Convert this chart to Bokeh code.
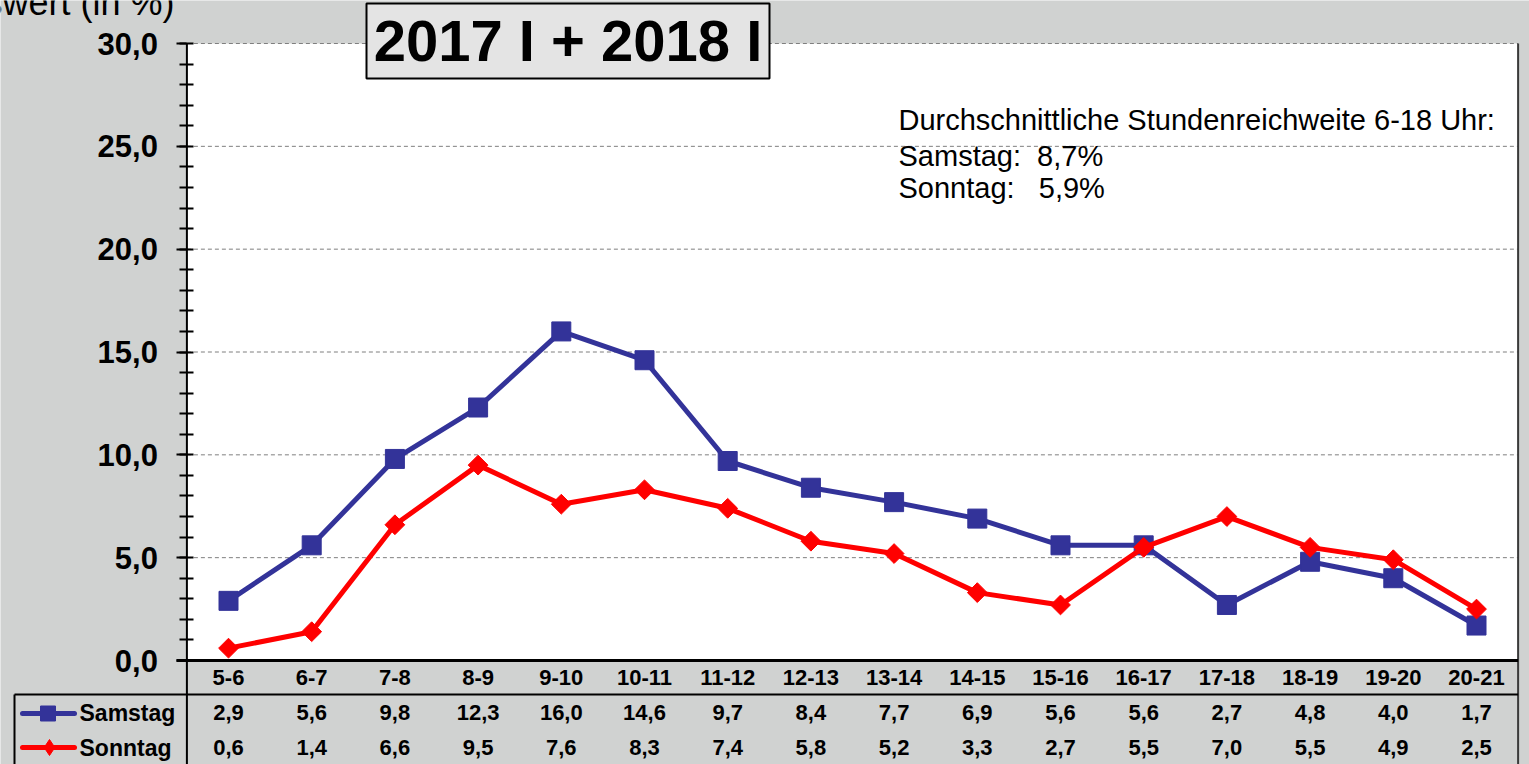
import math
from bokeh.plotting import figure
from bokeh.models import Range1d, LinearAxis, FixedTicker, Label, BoxAnnotation
from bokeh.embed import file_html
from bokeh.resources import INLINE
from bokeh.core.properties import value

# ---------------- data ----------------
categories = ["5-6", "6-7", "7-8", "8-9", "9-10", "10-11", "11-12", "12-13",
              "13-14", "14-15", "15-16", "16-17", "17-18", "18-19", "19-20", "20-21"]
samstag = [2.9, 5.6, 9.8, 12.3, 16.0, 14.6, 9.7, 8.4, 7.7, 6.9, 5.6, 5.6, 2.7, 4.8, 4.0, 1.7]
sonntag = [0.6, 1.4, 6.6, 9.5, 7.6, 8.3, 7.4, 5.8, 5.2, 3.3, 2.7, 5.5, 7.0, 5.5, 4.9, 2.5]
series_names = ["Samstag", "Sonntag"]
y_ticks = [0, 5, 10, 15, 20, 25, 30]
y_minor = list(range(0, 31))
title_text = "2017 I + 2018 I"
y_title = "Durchschnittswert (in %)"
avg_title = "Durchschnittliche Stundenreichweite 6-18 Uhr:"
avg_values = ["8,7%", "5,9%"]

# ---------------- layout ----------------
W, H = 1529, 764
X0_PX, DX = 228.0, 83.2       # page x of first category, category spacing
Y0_PX, DY = 660.0, 617.0 / 30.0

def xd(px):
    return (px - X0_PX) / DX

def yd(py):
    return (Y0_PX - py) / DY

BG = "#d0d2d1"
BLUE = "#333399"
RED = "#ff0000"
FONT = "Liberation Sans"
NB = "\u00a0"

def fmt(v):
    return f"{v:.1f}".replace(".", ",")

n = len(categories)
xs = list(range(n))
left_e, right_e = -0.5, n - 0.5
ytop = y_ticks[-1]
ybot = yd(H)

p = figure(width=W, height=H,
           x_range=Range1d(xd(0), xd(W)),
           y_range=Range1d(ybot, yd(0)),
           x_axis_type=None, y_axis_type=None,
           output_backend="svg", toolbar_location=None,
           min_border=0, background_fill_color=BG, border_fill_color=BG,
           outline_line_color=None)

# plot area
p.quad(left=left_e, right=right_e, bottom=0, top=ytop, fill_color="white", line_color=None)

# grid lines
p.segment(x0=[left_e] * (len(y_ticks) - 1), x1=[right_e] * (len(y_ticks) - 1),
          y0=y_ticks[1:], y1=y_ticks[1:], line_color="#7f7f7f", line_width=1,
          line_dash="4 3")

# frame / table lines
p.segment(x0=[left_e], y0=[ybot], x1=[left_e], y1=[ytop], line_color="black", line_width=2)
p.segment(x0=[right_e], y0=[ybot], x1=[right_e], y1=[ytop], line_color="#3a3a3a", line_width=2)
p.segment(x0=[xd(176)], y0=[0], x1=[right_e], y1=[0], line_color="black", line_width=3)
p.segment(x0=[xd(14)], y0=[yd(694)], x1=[right_e], y1=[yd(694)], line_color="black", line_width=2)
p.segment(x0=[xd(14)], y0=[ybot], x1=[xd(14)], y1=[yd(694)], line_color="black", line_width=2)

# y axis
yaxis = LinearAxis(fixed_location=left_e,
                   ticker=FixedTicker(ticks=y_ticks, minor_ticks=y_minor),
                   major_label_overrides={t: fmt(t) for t in y_ticks},
                   axis_line_color=None,
                   major_tick_in=0, major_tick_out=10,
                   minor_tick_in=7, minor_tick_out=7,
                   major_tick_line_width=2, minor_tick_line_width=2,
                   major_tick_line_color="black", minor_tick_line_color="black",
                   major_label_text_font=FONT, major_label_text_font_style="bold",
                   major_label_text_font_size="31px", major_label_text_color="black",
                   major_label_standoff=19)
p.add_layout(yaxis, "left")

# series
p.line(xs, samstag, line_color=BLUE, line_width=5)
p.scatter(xs, samstag, marker="square", size=19, fill_color=BLUE, line_color=BLUE)
p.line(xs, sonntag, line_color=RED, line_width=5)
p.scatter(xs, sonntag, marker="square", angle=math.pi / 4, size=14, fill_color=RED, line_color=RED)

# table: header + values
tkw = dict(text_font=value(FONT), text_font_style="bold", text_font_size="22px",
           text_color="black", text_baseline="middle")
p.text(xs, [yd(677)] * n, text=categories, text_align="center", **tkw)
p.text(xs, [yd(712)] * n, text=[fmt(v) for v in samstag], text_align="center", **tkw)
p.text(xs, [yd(747)] * n, text=[fmt(v) for v in sonntag], text_align="center", **tkw)
p.text([xd(79)] * 2, [yd(712), yd(747)], text=series_names, text_align="left",
       **{**tkw, "text_font_size": "23px"})

# legend keys in table
p.segment(x0=[xd(22)], y0=[yd(713)], x1=[xd(74)], y1=[yd(713)], line_color=BLUE,
          line_width=5, line_cap="round")
p.scatter([xd(47.5)], [yd(713)], marker="square", size=15, fill_color=BLUE, line_color=BLUE)
p.segment(x0=[xd(22)], y0=[yd(747)], x1=[xd(74)], y1=[yd(747)], line_color=RED,
          line_width=5, line_cap="round")
p.scatter([xd(49)], [yd(747)], marker="diamond", size=16,
          fill_color=RED, line_color=RED)

# title box
p.add_layout(BoxAnnotation(left=xd(366), right=xd(769), top=yd(3), bottom=yd(78),
                           fill_color="#e4e4e4", fill_alpha=1.0,
                           line_color="black", line_width=2, line_alpha=1.0))
p.add_layout(Label(x=xd(567.5), y=yd(40), text=title_text, text_align="center",
                   text_baseline="middle", text_font=FONT, text_font_style="bold",
                   text_font_size="58px", text_color="black"))

# average text
akw = dict(text_font=FONT, text_font_size="29px", text_color="black",
           text_baseline="alphabetic", text_align="left")
p.add_layout(Label(x=xd(898), y=yd(119), text=avg_title, **akw))
p.add_layout(Label(x=xd(898), y=yd(155),
                   text=f"{series_names[0]}:{NB}{NB}{avg_values[0]}", **akw))
p.add_layout(Label(x=xd(898), y=yd(187),
                   text=f"{series_names[1]}:{NB}{NB}{NB}{avg_values[1]}", **akw))

# y title (cut off at top)
p.add_layout(Label(x=xd(174), y=yd(2), text=y_title, text_align="right",
                   text_baseline="alphabetic", text_font=FONT, text_font_size="36px",
                   text_color="black"))

open("out.html", "w").write(file_html(p, INLINE))
